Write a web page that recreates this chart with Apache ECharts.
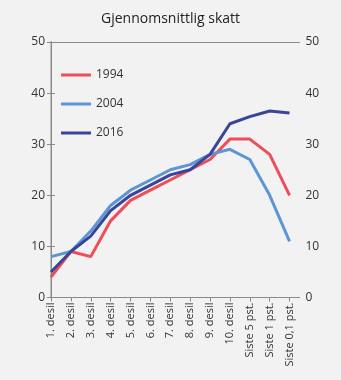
<!DOCTYPE html>
<html>
<head>
<meta charset="utf-8">
<script src="https://cdn.jsdelivr.net/npm/echarts@6/dist/echarts.min.js"></script>
<style>
  html, body { margin: 0; padding: 0; background: #f2f2f2; }
  #chart { width: 341px; height: 380px; }
</style>
</head>
<body>
<div id="chart"></div>
<script>
// Average tax by income group
const categories = ['1. desil', '2. desil', '3. desil', '4. desil', '5. desil', '6. desil', '7. desil',
  '8. desil', '9. desil', '10. desil', 'Siste 5 pst.', 'Siste 1 pst.', 'Siste 0,1 pst.'];
const values1994 = [4, 9, 8, 15, 19, 21, 23, 25, 27, 31, 31, 28, 20];
const values2004 = [8, 9, 13, 18, 21, 23, 25, 26, 28, 29, 27, 20, 11];
const values2016 = [5, 9, 12, 17, 20, 22, 24, 25, 28, 34, 35.4, 36.5, 36.1];
const yTicks = [0, 10, 20, 30, 40, 50];

const font = '"Open Sans", "Noto Sans", sans-serif';
const toPairs = arr => arr.map((v, i) => [i, v]);

const yAxisBase = {
  type: 'value', min: yTicks[0], max: yTicks[yTicks.length - 1], interval: yTicks[1] - yTicks[0],
  splitLine: { show: false },
  axisTick: { show: true, length: 4, lineStyle: { color: '#8a8a8a' } },
  axisLabel: { color: '#333', fontSize: 12, fontFamily: font, margin: 6 }
};

const chart = echarts.init(document.getElementById('chart'));
chart.setOption({
  backgroundColor: '#f2f2f2',
  animation: false,
  title: {
    text: 'Gjennomsnittlig skatt', left: 'center', top: 7,
    textStyle: { fontFamily: font, fontSize: 14, fontWeight: 'normal', color: '#222' }
  },
  legend: {
    orient: 'vertical', left: 56, top: 64, itemWidth: 30, itemHeight: 3, itemGap: 17,
    icon: 'rect',
    textStyle: { fontFamily: font, fontSize: 12, color: '#333' },
    data: ['1994', '2004', '2016']
  },
  grid: { left: 51, right: 41.5, top: 42, bottom: 82.5 },
  xAxis: [{
    type: 'value', min: 0, max: categories.length - 0.5, interval: 1,
    splitLine: { show: false },
    axisLine: { lineStyle: { color: '#8a8a8a' } },
    axisTick: { show: true, length: 4, lineStyle: { color: '#8a8a8a' } },
    axisLabel: {
      rotate: 90, margin: 5, color: '#333', fontSize: 11, fontFamily: font,
      showMaxLabel: false,
      formatter: v => (Number.isInteger(v) && categories[v]) ? categories[v] : ''
    }
  }, {
    type: 'value', position: 'top', min: 0, max: categories.length - 0.5,
    axisLine: { show: true, onZero: false, lineStyle: { color: '#8a8a8a' } },
    axisTick: { show: false }, axisLabel: { show: false }, splitLine: { show: false }
  }],
  yAxis: [
    Object.assign({}, yAxisBase, {
      position: 'left',
      axisLine: { show: true, lineStyle: { color: '#bdbdbd', width: 2 } }
    }),
    Object.assign({}, yAxisBase, {
      position: 'right',
      axisLine: { show: true, lineStyle: { color: '#8a8a8a' } }
    })
  ],
  series: [
    { name: '1994', type: 'line', data: toPairs(values1994), showSymbol: false, symbol: 'none',
      lineStyle: { width: 3, color: '#ee4d5a' }, itemStyle: { color: '#ee4d5a' } },
    { name: '2004', type: 'line', data: toPairs(values2004), showSymbol: false, symbol: 'none',
      lineStyle: { width: 3, color: '#5b96d6' }, itemStyle: { color: '#5b96d6' } },
    { name: '2016', type: 'line', data: toPairs(values2016), showSymbol: false, symbol: 'none',
      lineStyle: { width: 3, color: '#3b4597' }, itemStyle: { color: '#3b4597' } }
  ]
});
</script>
</body>
</html>
